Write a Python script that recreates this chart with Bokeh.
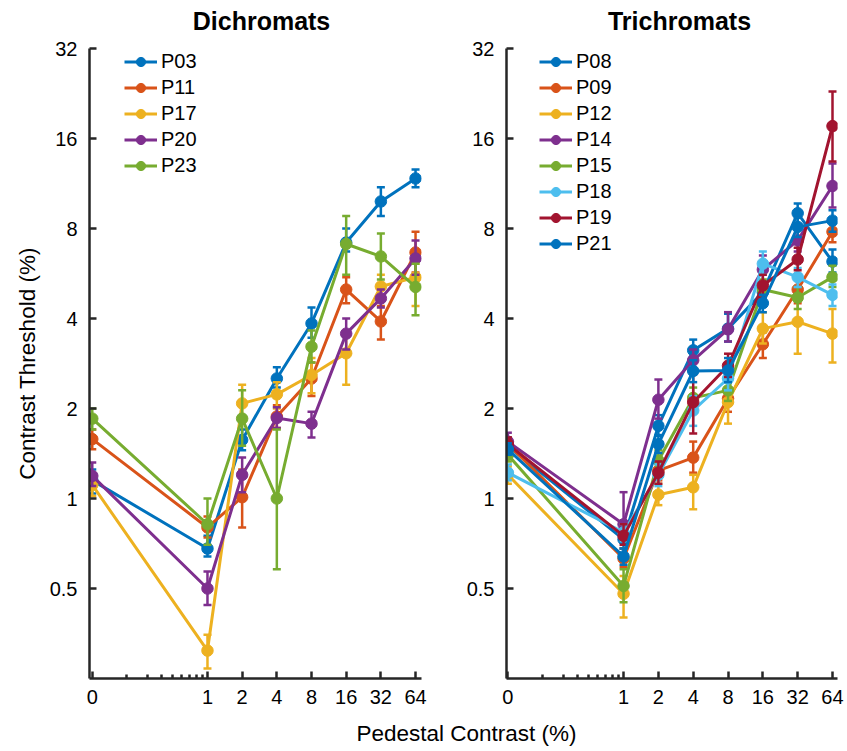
import numpy as np
from bokeh.plotting import figure
from bokeh.models import (Range1d, FixedTicker, CustomJSTickFormatter, Legend,
                          LegendItem, Label)
from bokeh.layouts import row, column
from bokeh.embed import file_html
from bokeh.resources import INLINE

# ---------------- data ----------------
pedestal = [0, 1, 2, 4, 8, 16, 32, 64]          # pedestal contrast (%)
x_tick_vals = [0, 1, 2, 4, 8, 16, 32, 64]
y_tick_vals = [0.5, 1, 2, 4, 8, 16, 32]
panel_titles = ["Dichromats", "Trichromats"]

dich_names = ["P03", "P11", "P17", "P20", "P23"]
dich_mean = [
    [1.15, 0.68, 1.57, 2.52, 3.85, 7.18, 9.85, 11.76],
    [1.58, 0.80, 1.01, 1.88, 2.52, 5.00, 3.91, 6.65],
    [1.11, 0.31, 2.08, 2.23, 2.59, 3.06, 5.12, 5.49],
    [1.19, 0.50, 1.20, 1.86, 1.78, 3.56, 4.67, 6.35],
    [1.85, 0.82, 1.85, 1.00, 3.22, 7.10, 6.45, 5.10],
]
dich_lo = [
    [1.04, 0.64, 1.45, 2.35, 3.45, 6.70, 8.80, 11.00],
    [1.46, 0.74, 0.80, 1.72, 2.20, 4.50, 3.40, 5.70],
    [1.02, 0.27, 1.80, 2.00, 2.25, 2.40, 4.60, 4.40],
    [1.10, 0.44, 1.05, 1.72, 1.60, 3.15, 4.35, 5.60],
    [1.70, 0.70, 1.50, 0.58, 2.85, 5.60, 5.40, 4.10],
]
dich_hi = [
    [1.25, 0.75, 1.70, 2.75, 4.35, 8.00, 11.00, 12.60],
    [1.70, 0.87, 1.25, 2.05, 2.85, 5.50, 4.40, 7.80],
    [1.20, 0.35, 2.40, 2.45, 2.95, 3.60, 5.60, 6.10],
    [1.32, 0.57, 1.37, 2.02, 1.95, 4.00, 5.00, 7.30],
    [2.00, 1.00, 2.30, 1.70, 3.65, 8.80, 7.70, 6.10],
]

trich_names = ["P08", "P09", "P12", "P14", "P15", "P18", "P19", "P21"]
trich_mean = [
    [1.50, 0.73, 1.75, 3.13, 3.70, 4.90, 9.00, 6.20],
    [1.52, 0.63, 1.24, 1.37, 2.16, 3.28, 5.00, 7.80],
    [1.20, 0.48, 1.03, 1.09, 2.10, 3.70, 3.90, 3.56],
    [1.55, 0.82, 2.14, 2.90, 3.68, 5.83, 7.30, 11.10],
    [1.40, 0.51, 1.34, 2.17, 2.30, 5.00, 4.70, 5.50],
    [1.22, 0.77, 1.20, 1.97, 2.52, 6.10, 5.50, 4.80],
    [1.52, 0.75, 1.22, 2.10, 2.78, 5.16, 6.30, 17.60],
    [1.46, 0.64, 1.52, 2.67, 2.68, 4.50, 8.10, 8.50],
]
trich_lo = [
    [1.42, 0.68, 1.62, 2.85, 3.35, 4.50, 8.20, 5.70],
    [1.45, 0.59, 1.15, 1.22, 1.95, 2.95, 4.50, 7.20],
    [1.12, 0.40, 0.95, 0.92, 1.78, 3.30, 3.05, 2.85],
    [1.45, 0.76, 1.85, 2.65, 3.35, 5.30, 6.70, 9.40],
    [1.33, 0.45, 1.25, 2.00, 2.12, 4.60, 4.30, 5.10],
    [1.15, 0.72, 1.10, 1.75, 2.30, 5.60, 5.10, 4.40],
    [1.45, 0.70, 1.12, 1.65, 2.55, 4.70, 5.80, 13.40],
    [1.40, 0.60, 1.42, 2.45, 2.45, 4.20, 7.50, 7.80],
]
trich_hi = [
    [1.58, 0.79, 1.90, 3.40, 4.15, 5.30, 9.70, 6.80],
    [1.60, 0.68, 1.33, 1.55, 2.35, 3.60, 5.50, 8.40],
    [1.28, 0.55, 1.12, 1.20, 2.45, 4.20, 4.60, 4.30],
    [1.66, 1.05, 2.50, 3.15, 4.20, 6.50, 8.00, 13.20],
    [1.48, 0.58, 1.45, 2.35, 2.50, 5.40, 5.10, 6.00],
    [1.30, 0.82, 1.30, 2.20, 2.75, 6.70, 5.90, 5.20],
    [1.60, 0.82, 1.33, 2.60, 3.05, 5.60, 6.90, 23.00],
    [1.53, 0.68, 1.63, 2.90, 2.95, 4.80, 8.70, 9.20],
]

dich_colors = ["#0072BD", "#D95319", "#EDB120", "#7E2F8E", "#77AC30"]
trich_colors = ["#0072BD", "#D95319", "#EDB120", "#7E2F8E", "#77AC30",
                "#4DBEEE", "#A2142F", "#0072BD"]

ZERO_POS = 0.1   # where pedestal 0 is drawn on the log axis
FONT = "Liberation Sans"
INK = "#262626"
FRAME_H = 630


def xpos(vals):
    return [ZERO_POS if v == 0 else v for v in vals]


def make_panel(names, means, los, his, colors, width,
               mb_left, mb_right, xr, ylabel, legend_x):
    p = figure(width=width, height=678, x_axis_type="log", y_axis_type="log",
               x_range=Range1d(*xr), y_range=Range1d(0.25, 32),
               toolbar_location=None, output_backend="svg",
               min_border_left=mb_left, min_border_right=mb_right,
               min_border_top=13, min_border_bottom=35)
    p.outline_line_color = None
    p.grid.visible = False
    p.background_fill_color = "white"

    xs = xpos(pedestal)
    items = []
    for name, m, lo, hi, c in zip(names, means, los, his, colors):
        p.segment(x0=xs, y0=lo, x1=xs, y1=hi, line_color=c, line_width=2.5)
        p.scatter(xs, lo, marker="dash", size=8, line_color=c, line_width=2.5)
        p.scatter(xs, hi, marker="dash", size=8, line_color=c, line_width=2.5)
        lr = p.line(xs, m, line_color=c, line_width=3)
        sr = p.scatter(xs, m, marker="circle", size=11.5, fill_color=c,
                       line_color=c, line_width=1)
        items.append(LegendItem(label=name, renderers=[lr, sr]))

    n = len(names)
    ih = 23
    sp = 3
    lh = n * ih + (n - 1) * sp
    legend = Legend(items=items, location=(legend_x, FRAME_H - 2 - lh),
                    border_line_color=None, background_fill_alpha=0,
                    label_text_font=FONT, label_text_font_size="20px",
                    label_text_color="black",
                    glyph_width=33, glyph_height=ih, label_height=ih,
                    spacing=sp, padding=0, margin=0, label_standoff=4)
    p.add_layout(legend)

    # x axis
    xa = p.xaxis[0]
    xa.ticker = FixedTicker(ticks=xpos(x_tick_vals),
                            minor_ticks=[0.2, 0.3, 0.4, 0.5, 0.6, 0.7, 0.8, 0.9])
    xa.formatter = CustomJSTickFormatter(code="return tick < 0.5 ? '0' : String(tick);")
    # y axis
    ya = p.yaxis[0]
    ya.ticker = FixedTicker(ticks=y_tick_vals, minor_ticks=[])
    ya.formatter = CustomJSTickFormatter(code="return String(tick);")

    for ax in (xa, ya):
        ax.axis_line_width = 2.5
        ax.axis_line_color = INK
        ax.major_tick_line_width = 2.5
        ax.major_tick_line_color = INK
        ax.major_tick_in = 7
        ax.major_tick_out = 0
        ax.minor_tick_line_width = 2.5
        ax.minor_tick_line_color = INK
        ax.minor_tick_in = 4
        ax.minor_tick_out = 0
        ax.major_label_text_font = FONT
        ax.major_label_text_font_size = "20px"
        ax.major_label_text_color = "black"
    xa.major_label_standoff = 11
    ya.major_label_standoff = 12
    if ylabel:
        ya.axis_label = ylabel
        ya.axis_label_text_font = FONT
        ya.axis_label_text_font_size = "22.5px"
        ya.axis_label_text_font_style = "normal"
        ya.axis_label_text_color = "black"
        ya.axis_label_standoff = 7
    return p


def text_strip(height, labels):
    s = figure(width=847, height=height, toolbar_location=None,
               output_backend="svg", x_axis_location=None, y_axis_location=None,
               x_range=Range1d(0, 1), y_range=Range1d(0, 1), min_border=0)
    s.outline_line_color = None
    s.grid.visible = False
    for lab in labels:
        s.add_layout(lab)
    return s


ptop = text_strip(35, [
    Label(x=261, y=15, x_units="screen", y_units="screen", text=panel_titles[0],
          text_align="center", text_baseline="middle", text_font=FONT,
          text_font_size="25px", text_font_style="bold", text_color="black"),
    Label(x=679, y=15, x_units="screen", y_units="screen", text=panel_titles[1],
          text_align="center", text_baseline="middle", text_font=FONT,
          text_font_size="25px", text_font_style="bold", text_color="black"),
])

p1 = make_panel(dich_names, dich_mean, dich_lo, dich_hi,
                dich_colors, 462, 89, 41, (0.0946, 72.1),
                "Contrast Threshold (%)", 35)
p2 = make_panel(trich_names, trich_mean, trich_lo, trich_hi,
                trich_colors, 385, 44, 10, (0.0973, 70.7), None, 33)

pbot = text_strip(36, [
    Label(x=466, y=16, x_units="screen", y_units="screen",
          text="Pedestal Contrast (%)", text_align="center",
          text_baseline="middle", text_font=FONT,
          text_font_size="22.5px", text_color="black"),
])

layout = column(ptop, row(p1, p2), pbot)
open("out.html", "w").write(file_html(layout, INLINE))
